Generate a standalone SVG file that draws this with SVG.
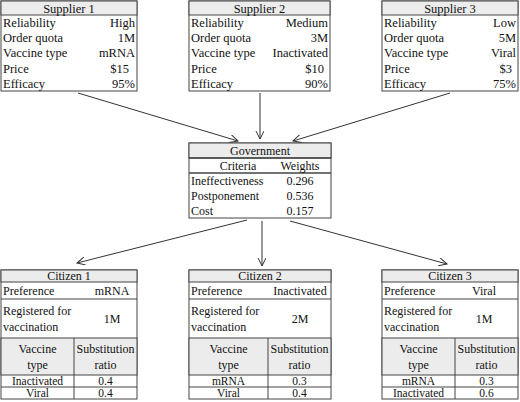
<svg xmlns="http://www.w3.org/2000/svg" width="520" height="402" viewBox="0 0 520 402">
<defs>
<style>
text{font-family:'Liberation Serif','Times New Roman',serif;fill:#111}
.s{font-size:12.5px}
.t{font-size:12px}
.r{font-size:11.5px}
.m{text-anchor:middle}
.e{text-anchor:end}
.box{fill:#fff;stroke:#444;stroke-width:1}
.hd{fill:#ececec;stroke:#444;stroke-width:1}
.ln{stroke:#444;stroke-width:1;fill:none}
.tk{stroke:#444;stroke-width:1.6;fill:none}
.con{stroke:#333;stroke-width:1;fill:none;marker-end:url(#arr)}
</style>
<marker id="arr" markerWidth="10" markerHeight="10" refX="8" refY="4" orient="auto" markerUnits="userSpaceOnUse">
<path d="M0,0 L8,4 L0,8" fill="none" stroke="#333" stroke-width="1"/>
</marker>
</defs>
<rect width="520" height="402" fill="#fff"/>

<g id="connectors">
<line class="con" x1="78" y1="93" x2="238" y2="141"/>
<line class="con" x1="260" y1="93" x2="260" y2="139"/>
<line class="con" x1="450" y1="93" x2="293" y2="141"/>
<line class="con" x1="247" y1="220" x2="77" y2="263"/>
<line class="con" x1="262" y1="221" x2="262" y2="266"/>
<line class="con" x1="290" y1="221" x2="447" y2="264"/>
</g>

<g id="supplier1">
<rect class="box" x="1" y="1" width="136" height="90"/>
<rect class="hd" x="1" y="1" width="136" height="14"/>
<text class="s m" x="69" y="12.5">Supplier 1</text>
<text class="s" x="3" y="27">Reliability</text><text class="s e" x="135" y="27">High</text>
<text class="s" x="3" y="42">Order quota</text><text class="s e" x="135" y="42">1M</text>
<text class="s" x="3" y="57.3">Vaccine type</text><text class="s e" x="135" y="57.3">mRNA</text>
<text class="s" x="3" y="72.5">Price</text><text class="s e" x="129" y="72.5">$15</text>
<text class="s" x="3" y="87.7">Efficacy</text><text class="s e" x="135" y="87.7">95%</text>
</g>

<g id="supplier2">
<rect class="box" x="189" y="1" width="141" height="90"/>
<rect class="hd" x="189" y="1" width="141" height="14"/>
<text class="s m" x="259.5" y="12.5">Supplier 2</text>
<text class="s" x="191" y="27">Reliability</text><text class="s e" x="328" y="27">Medium</text>
<text class="s" x="191" y="42">Order quota</text><text class="s e" x="328" y="42">3M</text>
<text class="s" x="191" y="57.3">Vaccine type</text><text class="s e" x="328" y="57.3">Inactivated</text>
<text class="s" x="191" y="72.5">Price</text><text class="s e" x="324" y="72.5">$10</text>
<text class="s" x="191" y="87.7">Efficacy</text><text class="s e" x="328" y="87.7">90%</text>
</g>

<g id="supplier3">
<rect class="box" x="382" y="1" width="136" height="90"/>
<rect class="hd" x="382" y="1" width="136" height="14"/>
<text class="s m" x="450" y="12.5">Supplier 3</text>
<text class="s" x="384" y="27">Reliability</text><text class="s e" x="516" y="27">Low</text>
<text class="s" x="384" y="42">Order quota</text><text class="s e" x="516" y="42">5M</text>
<text class="s" x="384" y="57.3">Vaccine type</text><text class="s e" x="516" y="57.3">Viral</text>
<text class="s" x="384" y="72.5">Price</text><text class="s e" x="512" y="72.5">$3</text>
<text class="s" x="384" y="87.7">Efficacy</text><text class="s e" x="516" y="87.7">75%</text>
</g>

<g id="government">
<rect class="box" x="189" y="143" width="142" height="75"/>
<rect class="hd" x="189" y="143" width="142" height="15"/>
<line class="tk" x1="189" y1="158" x2="331" y2="158"/>
<line class="tk" x1="189" y1="173" x2="331" y2="173"/>
<text class="t m" x="260" y="154.5">Government</text>
<text class="t m" x="238" y="169.5">Criteria</text>
<text class="t m" x="300" y="169.5">Weights</text>
<text class="t" x="191" y="185">Ineffectiveness</text><text class="t m" x="300" y="185">0.296</text>
<text class="t" x="191" y="200">Postponement</text><text class="t m" x="300" y="200">0.536</text>
<text class="t" x="191" y="215">Cost</text><text class="t m" x="300" y="215">0.157</text>
</g>

<g id="citizen1">
<rect class="box" x="1" y="270" width="136" height="129"/>
<rect class="hd" x="1" y="270" width="136" height="12"/>
<rect class="hd" x="1" y="338" width="136" height="37"/>
<line class="ln" x1="1" y1="299" x2="137" y2="299"/>
<line class="ln" x1="1" y1="387" x2="137" y2="387"/>
<line class="ln" x1="74" y1="338" x2="74" y2="399"/>
<text class="t m" x="69" y="280">Citizen 1</text>
<text class="t" x="3" y="295">Preference</text><text class="t m" x="112" y="295">mRNA</text>
<text class="t" x="3" y="315">Registered for</text>
<text class="t" x="3" y="331">vaccination</text>
<text class="t m" x="112" y="323">1M</text>
<text class="t m" x="37.5" y="353">Vaccine</text><text class="t m" x="37.5" y="369">type</text>
<text class="t m" x="105.5" y="353">Substitution</text><text class="t m" x="105.5" y="369">ratio</text>
<text class="r m" x="37.5" y="384.5">Inactivated</text><text class="r m" x="105.5" y="384.5">0.4</text>
<text class="r m" x="37.5" y="397">Viral</text><text class="r m" x="105.5" y="397">0.4</text>
</g>

<g id="citizen2">
<rect class="box" x="189" y="270" width="142" height="129"/>
<rect class="hd" x="189" y="270" width="142" height="12"/>
<rect class="hd" x="189" y="338" width="142" height="37"/>
<line class="ln" x1="189" y1="299" x2="331" y2="299"/>
<line class="ln" x1="189" y1="387" x2="331" y2="387"/>
<line class="ln" x1="268" y1="338" x2="268" y2="399"/>
<text class="t m" x="260" y="280">Citizen 2</text>
<text class="t" x="191" y="295">Preference</text><text class="t m" x="300" y="295">Inactivated</text>
<text class="t" x="191" y="315">Registered for</text>
<text class="t" x="191" y="331">vaccination</text>
<text class="t m" x="300" y="323">2M</text>
<text class="t m" x="228.5" y="353">Vaccine</text><text class="t m" x="228.5" y="369">type</text>
<text class="t m" x="299.5" y="353">Substitution</text><text class="t m" x="299.5" y="369">ratio</text>
<text class="r m" x="228.5" y="384.5">mRNA</text><text class="r m" x="299.5" y="384.5">0.3</text>
<text class="r m" x="228.5" y="397">Viral</text><text class="r m" x="299.5" y="397">0.4</text>
</g>

<g id="citizen3">
<rect class="box" x="382" y="270" width="136" height="129"/>
<rect class="hd" x="382" y="270" width="136" height="12"/>
<rect class="hd" x="382" y="338" width="136" height="37"/>
<line class="ln" x1="382" y1="299" x2="518" y2="299"/>
<line class="ln" x1="382" y1="387" x2="518" y2="387"/>
<line class="ln" x1="455" y1="338" x2="455" y2="399"/>
<text class="t m" x="450" y="280">Citizen 3</text>
<text class="t" x="384" y="295">Preference</text><text class="t m" x="484" y="295">Viral</text>
<text class="t" x="384" y="315">Registered for</text>
<text class="t" x="384" y="331">vaccination</text>
<text class="t m" x="484" y="323">1M</text>
<text class="t m" x="418.5" y="353">Vaccine</text><text class="t m" x="418.5" y="369">type</text>
<text class="t m" x="486.5" y="353">Substitution</text><text class="t m" x="486.5" y="369">ratio</text>
<text class="r m" x="418.5" y="384.5">mRNA</text><text class="r m" x="486.5" y="384.5">0.3</text>
<text class="r m" x="418.5" y="397">Inactivated</text><text class="r m" x="486.5" y="397">0.6</text>
</g>
</svg>
